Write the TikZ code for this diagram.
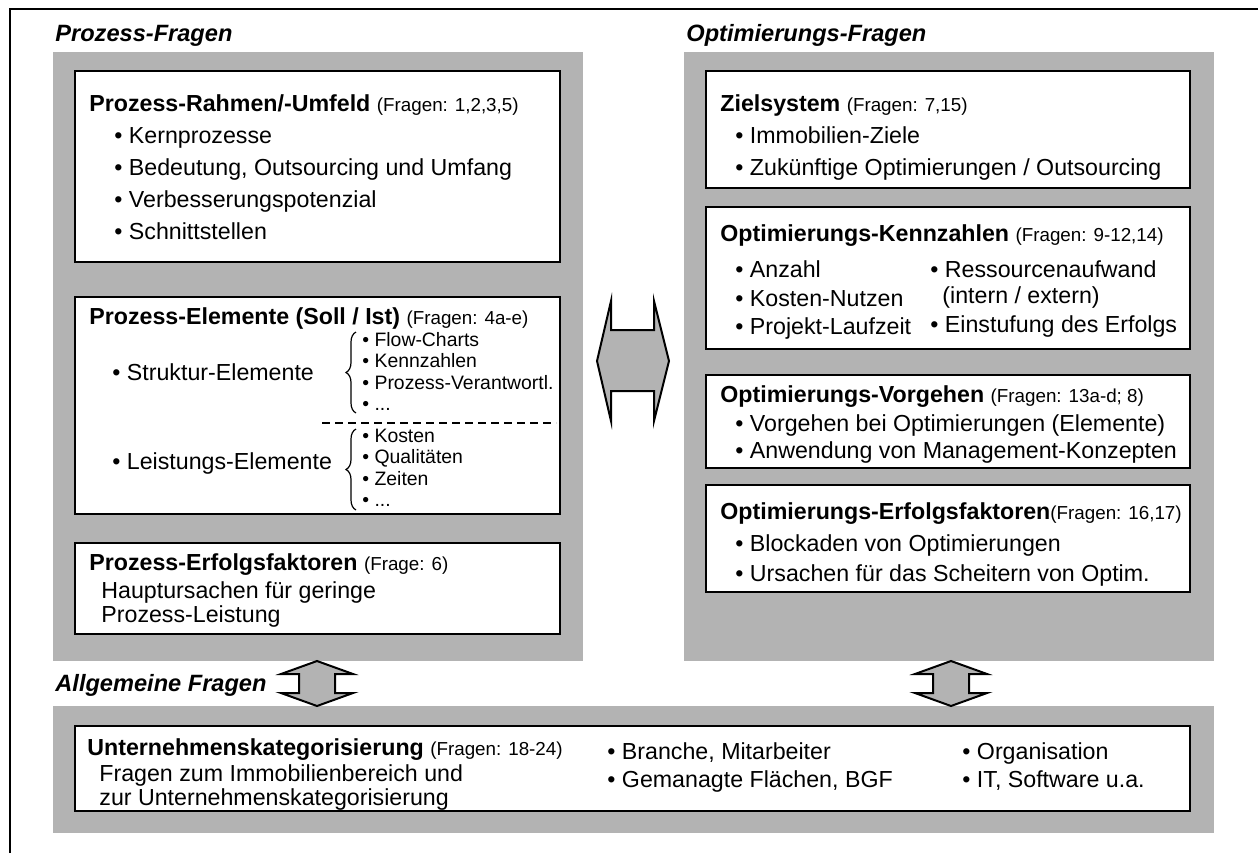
\documentclass[tikz,border=0pt]{standalone}
\usepackage{fontspec}
\setmainfont{Liberation Sans}
\usetikzlibrary{decorations.pathreplacing}
\definecolor{panelgray}{RGB}{179,179,179}
\tikzset{
  panel/.style={fill=panelgray, draw=none},
  qbox/.style={draw=black, fill=white, line width=1pt},
  txt/.style={anchor=base west, inner sep=0pt, font=\fontsize{11.6}{14}\selectfont},
  subtxt/.style={anchor=base west, inner sep=0pt, font=\fontsize{9.7}{11}\selectfont},
  headtxt/.style={anchor=base west, inner sep=0pt, font=\fontsize{11.8}{14}\selectfont\bfseries\itshape},
  darrow/.style={fill=panelgray, draw=black, line width=1pt, line join=miter},
  brc/.style={decorate, decoration={brace, amplitude=5}, line width=0.6pt},
}
\newcommand{\sm}[1]{{\fontsize{9.4}{11}\selectfont\mdseries #1}}
\begin{document}
\begin{tikzpicture}[x=0.5pt, y=-0.5pt]
\useasboundingbox (0,0) rectangle (1258,853);
% outer frame
\draw[line width=1pt] (10,853) -- (10,9) -- (1258,9);
% headings
\node[headtxt] (hpf) at (55,41) {Prozess-Fragen};
\node[headtxt] (hof) at (686,41) {Optimierungs-Fragen};
\node[headtxt] (haf) at (55,691) {Allgemeine Fragen};
% panels
\fill[panel] (53,52) rectangle (583,661);
\fill[panel] (684,52) rectangle (1214,661);
\fill[panel] (53,706) rectangle (1214,833);
% ---- left boxes
\draw[qbox] (75,71) rectangle (560,262);
\node[txt] (a0) at (89,111) {\textbf{Prozess-Rahmen/-Umfeld} \sm{(Fragen: 1,2,3,5)}};
\node[txt] (a1) at (114,143) {• Kernprozesse};
\node[txt] (a2) at (114,175) {• Bedeutung, Outsourcing und Umfang};
\node[txt] (a3) at (114,207) {• Verbesserungspotenzial};
\node[txt] (a4) at (114,239) {• Schnittstellen};

\draw[qbox] (75,297) rectangle (560,514);
\node[txt] (b0) at (89,324) {\textbf{Prozess-Elemente (Soll / Ist)} \sm{(Fragen: 4a-e)}};
\node[txt] (b1) at (112,380) {• Struktur-Elemente};
\coordinate (bs1) at (356,413);
\coordinate (bs2) at (356,332);
\draw[brc] (bs1) -- (bs2);
\node[subtxt] (b11) at (362,346) {• Flow-Charts};
\node[subtxt] (b12) at (362,367.5) {• Kennzahlen};
\node[subtxt] (b13) at (362,389) {• Prozess-Verantwortl.};
\node[subtxt] (b14) at (362,410) {• ...};
\coordinate (dl1) at (322,423);
\coordinate (dl2) at (556,423);
\draw[line width=0.7pt, dash pattern=on 4pt off 2.5pt] (dl1) -- (dl2);
\node[txt] (b2) at (112,469) {• Leistungs-Elemente};
\coordinate (bl1) at (356,510);
\coordinate (bl2) at (356,429);
\draw[brc] (bl1) -- (bl2);
\node[subtxt] (b21) at (362,442) {• Kosten};
\node[subtxt] (b22) at (362,463.5) {• Qualitäten};
\node[subtxt] (b23) at (362,485) {• Zeiten};
\node[subtxt] (b24) at (362,506) {• ...};

\draw[qbox] (75,543) rectangle (560,634);
\node[txt] (c0) at (89,570) {\textbf{Prozess-Erfolgsfaktoren} \sm{(Frage: 6)}};
\node[txt] (c1) at (101,598) {Hauptursachen für geringe};
\node[txt] (c2) at (101,622) {Prozess-Leistung};
% ---- right boxes
\draw[qbox] (706,71) rectangle (1190,188);
\node[txt] (d0) at (720,111) {\textbf{Zielsystem} \sm{(Fragen: 7,15)}};
\node[txt] (d1) at (735,143) {• Immobilien-Ziele};
\node[txt] (d2) at (735,175) {• Zukünftige Optimierungen / Outsourcing};

\draw[qbox] (706,207) rectangle (1190,349);
\node[txt] (e0) at (720,241) {\textbf{Optimierungs-Kennzahlen} \sm{(Fragen: 9-12,14)}};
\node[txt] (e1) at (735,277) {• Anzahl};
\node[txt] (e2) at (735,306) {• Kosten-Nutzen};
\node[txt] (e3) at (735,334) {• Projekt-Laufzeit};
\node[txt] (e4) at (930,277) {• Ressourcenaufwand};
\node[txt] (e5) at (942,303) {(intern / extern)};
\node[txt] (e6) at (930,332) {• Einstufung des Erfolgs};

\draw[qbox] (706,375) rectangle (1190,468);
\node[txt] (f0) at (720,402) {\textbf{Optimierungs-Vorgehen} \sm{(Fragen: 13a-d; 8)}};
\node[txt] (f1) at (735,431) {• Vorgehen bei Optimierungen (Elemente)};
\node[txt] (f2) at (735,458) {• Anwendung von Management-Konzepten};

\draw[qbox] (706,485) rectangle (1190,592);
\node[txt] (g0) at (720,519) {\textbf{Optimierungs-Erfolgsfaktoren}\sm{(Fragen: 16,17)}};
\node[txt] (g1) at (735,551) {• Blockaden von Optimierungen};
\node[txt] (g2) at (735,581) {• Ursachen für das Scheitern von Optim.};
% ---- bottom box
\draw[qbox] (75,726) rectangle (1190,811);
\node[txt] (u0) at (87,755) {\textbf{Unternehmenskategorisierung} \sm{(Fragen: 18-24)}};
\node[txt] (u1) at (99,781) {Fragen zum Immobilienbereich und};
\node[txt] (u2) at (99,805) {zur Unternehmenskategorisierung};
\node[txt] (u3) at (607,759) {• Branche, Mitarbeiter};
\node[txt] (u4) at (607,787) {• Gemanagte Flächen, BGF};
\node[txt] (u5) at (962,759) {• Organisation};
\node[txt] (u6) at (962,787) {• IT, Software u.a.};
% ---- double arrows
\draw[darrow] (611,301) -- (611,330) -- (654,330) -- (654,301) -- (669,361)
  -- (654,421) -- (654,391) -- (611,391) -- (611,421) -- (597,361) -- cycle;
\draw[darrow] (317,661) -- (353,674) -- (335,674) -- (335,693) -- (353,693)
  -- (317,706) -- (281,693) -- (299,693) -- (299,674) -- (281,674) -- cycle;
\draw[darrow] (951,661) -- (987,674) -- (969,674) -- (969,693) -- (987,693)
  -- (951,706) -- (915,693) -- (933,693) -- (933,674) -- (915,674) -- cycle;
\end{tikzpicture}
\end{document}
